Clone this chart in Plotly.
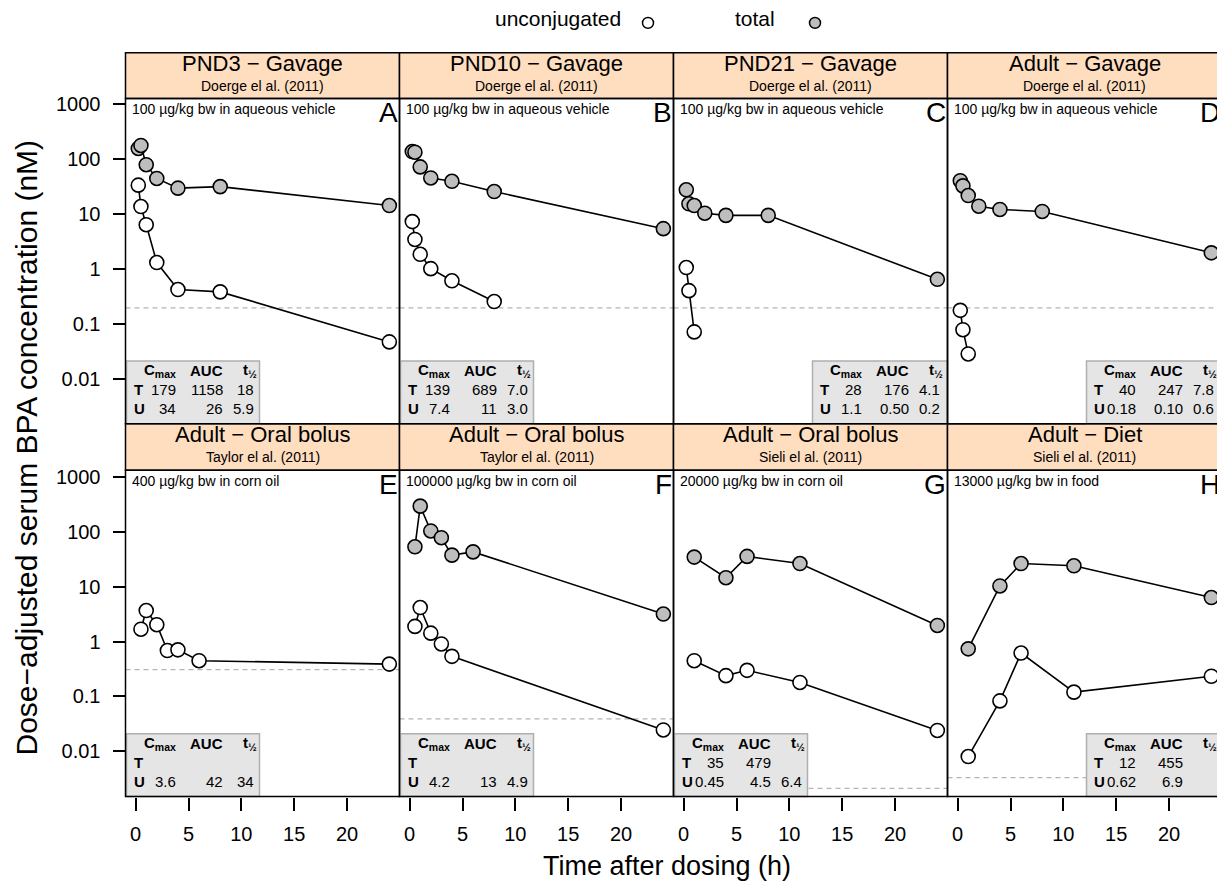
import plotly.graph_objects as go

# ---------------- data ----------------
t_doerge = [0.25, 0.5, 1, 2, 4, 8, 24]
t_taylor = [0.5, 1, 2, 3, 4, 6, 24]
t_taylor_u = [0.5, 1, 2, 3, 4, 24]
t_sieli = [1, 4, 6, 11, 24]

A_total = [158, 179, 80, 45, 30, 32, 14.5]
A_unconj = [34, 13.9, 6.5, 1.33, 0.43, 0.39, 0.048]
B_total = [139, 135, 73, 46, 40, 26, 5.5]
B_unconj = [7.4, 3.5, 1.88, 1.03, 0.62, 0.26]
C_total = [28, 15.6, 14.5, 10.5, 9.6, 9.6, 0.66]
C_unconj = [1.08, 0.41, 0.073]
D_total = [41, 33, 22, 14.1, 12.3, 11.3, 2.0]
D_unconj = [0.18, 0.080, 0.029]
E_unconj = [1.69, 3.7, 2.04, 0.69, 0.71, 0.45, 0.39]
F_total = [54, 298, 105, 79, 38, 43.6, 3.2]
F_unconj = [1.9, 4.2, 1.43, 0.91, 0.54, 0.0245]
G_total = [35, 14.7, 36, 26.7, 1.98]
G_unconj = [0.45, 0.24, 0.30, 0.18, 0.024]
H_total = [0.74, 10.4, 26.7, 24.3, 6.4]
H_unconj = [0.0080, 0.083, 0.62, 0.12, 0.234]

lod_values = [0.2, 0.2, 0.2, 0.2, 0.31, 0.039, 0.0021, 0.0033]

panel_letters = ["A", "B", "C", "D", "E", "F", "G", "H"]
strip_titles = ["PND3 − Gavage", "PND10 − Gavage", "PND21 − Gavage", "Adult − Gavage",
                "Adult − Oral bolus", "Adult − Oral bolus", "Adult − Oral bolus", "Adult − Diet"]
strip_refs = ["Doerge el al. (2011)"] * 4 + ["Taylor el al. (2011)", "Taylor el al. (2011)",
                                           "Sieli el al. (2011)", "Sieli el al. (2011)"]
dose_texts = ["100 µg/kg bw in aqueous vehicle"] * 4 + [
    "400 µg/kg bw in corn oil", "100000 µg/kg bw in corn oil",
    "20000 µg/kg bw in corn oil", "13000 µg/kg bw in food"]

# table: (Cmax, AUC, t1/2) for T and U
table_T = [("179", "1158", "18"), ("139", "689", "7.0"), ("28", "176", "4.1"), ("40", "247", "7.8"),
           ("", "", ""), ("", "", ""), ("35", "479", ""), ("12", "455", "")]
table_U = [("34", "26", "5.9"), ("7.4", "11", "3.0"), ("1.1", "0.50", "0.2"), ("0.18", "0.10", "0.6"),
           ("3.6", "42", "34"), ("4.2", "13", "4.9"), ("0.45", "4.5", "6.4"), ("0.62", "6.9", "")]
table_side = ["left", "left", "right", "right", "left", "left", "left", "right"]

x_ticks = [0, 5, 10, 15, 20]
y_ticks = [0.01, 0.1, 1, 10, 100, 1000]
y_ticktext = ["0.01", "0.1", "1", "10", "100", "1000"]

series_total = [(t_doerge, A_total), (t_doerge, B_total), (t_doerge, C_total), (t_doerge, D_total),
                None, (t_taylor, F_total), (t_sieli, G_total), (t_sieli, H_total)]
series_unconj = [(t_doerge, A_unconj), (t_doerge[:6], B_unconj), (t_doerge[:3], C_unconj),
                 (t_doerge[:3], D_unconj), (t_taylor, E_unconj), (t_taylor_u, F_unconj),
                 (t_sieli, G_unconj), (t_sieli, H_unconj)]

# ---------------- layout geometry (pixels) ----------------
W, H = 1217, 888
FONT = "Liberation Sans, Arial, Helvetica, sans-serif"
col_left = [125.5, 399.5, 673.5, 947.5]
PW = 274.0
row_top = [94.0, 468.0]
row_bot = [421.0, 796.0]
strip_top = [48.0, 421.0]
XMIN, XMAX = -0.96, 24.96
y_ranges = [[-2.805, 3.108], [-2.826, 3.127]]


def px(x):
    return x / W


def py(y):
    return 1 - y / H


fig = go.Figure()
shapes = []
annotations = []
layout_axes = {}


def note(text, x, y, size, xanchor="center", angle=0):
    annotations.append(dict(text=text, x=px(x), y=py(y), xref="paper", yref="paper",
                            showarrow=False, xanchor=xanchor, yanchor="middle",
                            textangle=angle, borderpad=0,
                            font=dict(size=size, color="black", family=FONT)))


for i in range(8):
    r, c = divmod(i, 4)
    xa = "x" if i == 0 else f"x{i+1}"
    ya = "y" if i == 0 else f"y{i+1}"
    left = col_left[c]
    right = left + PW
    right_vis = min(right, W)
    xmax = XMIN + (right_vis - left) / PW * (XMAX - XMIN)
    top, bot = row_top[r], row_bot[r]

    # LOD dashed line
    fig.add_trace(go.Scatter(x=[XMIN, XMAX], y=[lod_values[i]] * 2, mode="lines",
                             line=dict(color="#B4B4B4", width=1.3, dash="5px,4px"),
                             xaxis=xa, yaxis=ya, showlegend=False, hoverinfo="skip"))
    if series_total[i] is not None:
        tt, vv = series_total[i]
        fig.add_trace(go.Scatter(x=tt, y=vv, mode="lines+markers",
                                 line=dict(color="black", width=1.6),
                                 marker=dict(size=14, color="#BEBEBE",
                                             line=dict(color="black", width=1.6)),
                                 xaxis=xa, yaxis=ya, showlegend=False))
    tu, vu = series_unconj[i]
    fig.add_trace(go.Scatter(x=tu, y=vu, mode="lines+markers",
                             line=dict(color="black", width=1.6),
                             marker=dict(size=14, color="white",
                                         line=dict(color="black", width=1.6)),
                             xaxis=xa, yaxis=ya, showlegend=False))

    xkey = "xaxis" if i == 0 else f"xaxis{i+1}"
    ykey = "yaxis" if i == 0 else f"yaxis{i+1}"
    bottom_row = r == 1
    layout_axes[xkey] = dict(
        domain=[px(left), px(right_vis)], range=[XMIN, xmax], anchor=ya,
        showgrid=False, zeroline=False, showline=False,
        tickvals=x_ticks if bottom_row else [], ticks="outside" if bottom_row else "",
        ticklen=13, tickwidth=1.5, tickcolor="black",
        showticklabels=bottom_row, tickfont=dict(size=20, color="black", family=FONT),
        ticklabelstandoff=6,
    )
    layout_axes[ykey] = dict(
        domain=[py(bot), py(top)], type="log", range=y_ranges[r], anchor=xa,
        showgrid=False, zeroline=False, showline=False,
        tickvals=y_ticks if c == 0 else [], ticktext=y_ticktext if c == 0 else [],
        ticks="outside" if c == 0 else "", ticklen=12, tickwidth=1.5, tickcolor="black",
        showticklabels=(c == 0), tickfont=dict(size=20, color="black", family=FONT),
        ticklabelstandoff=8,
    )

    # strip
    stop = strip_top[r]
    shapes.append(dict(type="rect", xref="paper", yref="paper",
                       x0=px(left), x1=px(right), y0=py(top), y1=py(stop),
                       fillcolor="#FFDDBF", line=dict(color="black", width=1.5), layer="below"))
    note(strip_titles[i], (left + right) / 2, stop + 10.5, 22)
    note(strip_refs[i], (left + right) / 2, stop + 33.5, 14)
    # dose text + letter
    note(dose_texts[i], left + 5, top + 10.5, 14, "left")
    note(panel_letters[i], right - 1, top + 14.5, 28, "right")

    # table box
    if table_side[i] == "left":
        bx0 = left + 1
        bx1 = bx0 + 133
    else:
        bx1 = right
        bx0 = bx1 - 135
    by0 = bot - 63
    shapes.append(dict(type="rect", xref="paper", yref="paper",
                       x0=px(bx0), x1=px(bx1), y0=py(bot), y1=py(by0),
                       fillcolor="#E5E5E5", line=dict(color="#AFAFAF", width=1.5), layer="above"))
    colx = [bx0 + 50.5, bx0 + 97, bx0 + 128.5]
    header = ["<b>C<sub>max</sub></b>", "<b>AUC</b>", "<b>t<sub>½</sub></b>"]
    rows_y = [by0 + 9.5, by0 + 28.5, by0 + 47.5]
    for k in range(3):
        note(header[k], colx[k] + (3 if k == 2 else 0), rows_y[0], 15, "right")
    for lab, vals, yy in (("T", table_T[i], rows_y[1]), ("U", table_U[i], rows_y[2])):
        note(f"<b>{lab}</b>", bx0 + 6, yy, 15, "left")
        for k in range(3):
            if vals[k]:
                note(vals[k], colx[k], yy, 15, "right")
    # panel border
    shapes.append(dict(type="rect", xref="paper", yref="paper",
                       x0=px(left), x1=px(right), y0=py(bot), y1=py(top),
                       line=dict(color="black", width=1.5), layer="above"))

# legend
note("unconjugated", 622, 14, 21, "right")
note("total", 776, 14, 21, "right")
for cx, fill in ((648, "white"), (815, "#BEBEBE")):
    shapes.append(dict(type="circle", xref="paper", yref="paper",
                       x0=px(cx - 5.5), x1=px(cx + 5.5), y0=py(18 + 5.5), y1=py(18 - 5.5),
                       fillcolor=fill, line=dict(color="black", width=1.5)))

# axis titles
note("Dose−adjusted serum BPA concentration (nM)", 26, 445, 30, "center", -90)
note("Time after dosing (h)", 667, 866, 27)

fig.update_layout(width=W, height=H, margin=dict(l=0, r=0, t=0, b=0),
                  paper_bgcolor="white", plot_bgcolor="white", showlegend=False,
                  shapes=shapes, annotations=annotations, **layout_axes)

fig.write_html("out.html", config={"displayModeBar": False},
               post_script="document.body.style.margin='0';document.body.style.overflow='hidden';")
